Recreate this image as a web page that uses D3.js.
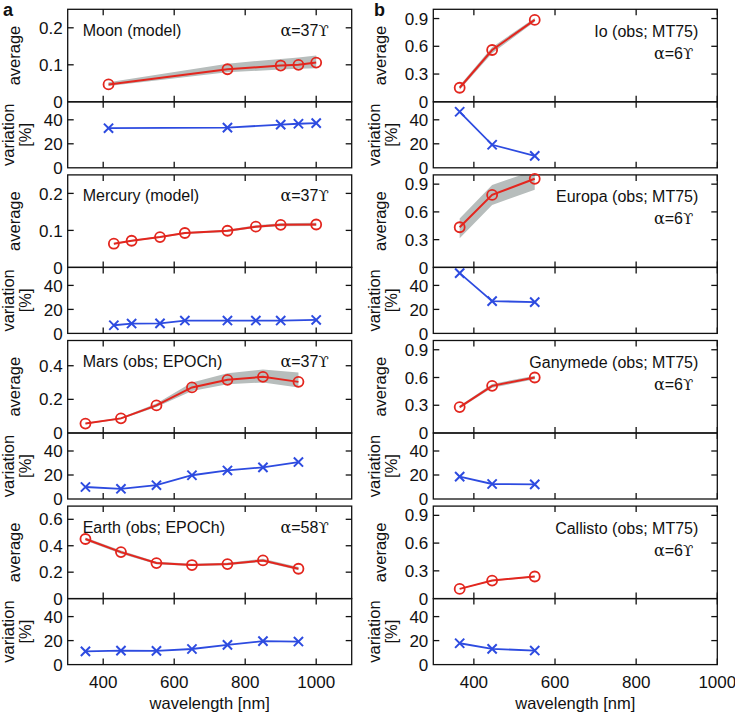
<!DOCTYPE html>
<html><head><meta charset="utf-8">
<script src="https://cdn.jsdelivr.net/npm/d3@7"></script>
<style>
body{margin:0;background:#fff;}
text{font-family:"Liberation Sans",Arial,Helvetica,sans-serif;fill:#111;}
.serif{font-family:"DejaVu Serif","Liberation Serif",serif;}
</style></head><body>
<svg id="chart" width="735" height="714"></svg>
<script>
// ---------- data ----------
const xTicks = [400, 600, 800, 1000];
const varTicks = [0, 20, 40];

const moonWl  = [415, 750, 900, 950, 1000];
const moonAvg = [0.047, 0.088, 0.098, 0.100, 0.106];
const moonLo  = [0.043, 0.080, 0.087, 0.089, 0.091];
const moonHi  = [0.053, 0.103, 0.116, 0.120, 0.125];
const moonVar = [33, 33.5, 36, 36.7, 37.2];

const mercWl  = [430, 480, 560, 630, 750, 830, 900, 1000];
const mercAvg = [0.064, 0.072, 0.082, 0.093, 0.099, 0.110, 0.115, 0.116];
const mercLo  = [0.062, 0.070, 0.080, 0.090, 0.096, 0.107, 0.111, 0.112];
const mercHi  = [0.066, 0.074, 0.084, 0.095, 0.102, 0.114, 0.119, 0.121];
const mercVar = [6.8, 8.2, 8.4, 10.7, 10.7, 10.7, 10.7, 11.2];

const marsWl  = [350, 450, 550, 650, 750, 850, 950];
const marsAvg = [0.056, 0.087, 0.164, 0.271, 0.316, 0.334, 0.304];
const marsLo  = [0.052, 0.082, 0.155, 0.250, 0.290, 0.300, 0.270];
const marsHi  = [0.060, 0.092, 0.175, 0.300, 0.355, 0.378, 0.360];
const marsVar = [10, 8.5, 11.5, 19.8, 23.8, 26.4, 30.8];

const earthWl  = [350, 450, 550, 650, 750, 850, 950];
const earthAvg = [0.451, 0.352, 0.269, 0.254, 0.261, 0.289, 0.226];
const earthLo  = [0.440, 0.340, 0.260, 0.246, 0.252, 0.278, 0.214];
const earthHi  = [0.462, 0.364, 0.279, 0.264, 0.272, 0.302, 0.240];
const earthVar = [11, 11.6, 11.4, 13, 16.4, 19.6, 19.2];

const ioWl  = [365, 445, 550];
const ioAvg = [0.152, 0.560, 0.885];
const ioLo  = [0.130, 0.525, 0.865];
const ioHi  = [0.175, 0.590, 0.905];
const ioVar = [46.7, 19.2, 9.9];

const euWl  = [365, 445, 550];
const euAvg = [0.434, 0.784, 0.958];
const euLo  = [0.314, 0.675, 0.840];
const euHi  = [0.530, 0.890, 1.050];
const euVar = [50.2, 26.9, 26.1];

const ganWl  = [365, 445, 550];
const ganAvg = [0.280, 0.510, 0.600];
const ganLo  = [0.265, 0.490, 0.580];
const ganHi  = [0.295, 0.530, 0.620];
const ganVar = [18.6, 12.5, 12.2];

const calWl  = [365, 445, 550];
const calAvg = [0.105, 0.195, 0.239];
const calLo  = [0.100, 0.188, 0.232];
const calHi  = [0.110, 0.202, 0.246];
const calVar = [17.8, 13.1, 11.7];

const panelNames  = ["Moon (model)", "Mercury (model)", "Mars (obs; EPOCh)", "Earth (obs; EPOCh)",
                     "Io (obs; MT75)", "Europa (obs; MT75)", "Ganymede (obs; MT75)", "Callisto (obs; MT75)"];
const panelAlphas = ["37", "37", "37", "58", "6", "6", "6", "6"];
const avgMax   = [0.25, 0.25, 0.55, 0.7, 1.0, 1.0, 1.0, 1.0];
const avgTicks = [[0,0.1,0.2],[0,0.1,0.2],[0,0.2,0.4],[0,0.2,0.4,0.6],
                  [0,0.3,0.6,0.9],[0,0.3,0.6,0.9],[0,0.3,0.6,0.9],[0,0.3,0.6,0.9]];
const varMax = 55;
const xDomains = [[300, 1100], [300, 1000]];

const panels = [
  {wl: moonWl, avg: moonAvg, lo: moonLo, hi: moonHi, vr: moonVar},
  {wl: mercWl, avg: mercAvg, lo: mercLo, hi: mercHi, vr: mercVar},
  {wl: marsWl, avg: marsAvg, lo: marsLo, hi: marsHi, vr: marsVar},
  {wl: earthWl, avg: earthAvg, lo: earthLo, hi: earthHi, vr: earthVar},
  {wl: ioWl, avg: ioAvg, lo: ioLo, hi: ioHi, vr: ioVar},
  {wl: euWl, avg: euAvg, lo: euLo, hi: euHi, vr: euVar},
  {wl: ganWl, avg: ganAvg, lo: ganLo, hi: ganHi, vr: ganVar},
  {wl: calWl, avg: calAvg, lo: calLo, hi: calHi, vr: calVar}
];

// ---------- layout ----------
const svg = d3.select("#chart");
const RED = "#e3261e", BLUE = "#2d4be0", BAND = "#b7bdbc";
const colLeft = [67.7, 433.3], colW = 284;
const top0 = 9.3, rowStep = 165.6, avgH = 92.5, varH = 66;
const tickLen = 6;
const TICK_FS = 17, LAB_FS = 16, TITLE_FS = 16.5;
const fmt = v => v === 0 ? "0" : d3.format("")(v);

function frameWithTicks(g, x, y, w, h, xs, ys, xTickVals, yTickVals) {
  g.append("rect").attr("x", x).attr("y", y).attr("width", w).attr("height", h)
    .attr("fill", "none").attr("stroke", "#111").attr("stroke-width", 1.3);
  xTickVals.forEach(t => {
    const px = xs(t);
    g.append("line").attr("x1", px).attr("x2", px).attr("y1", y).attr("y2", y + tickLen)
      .attr("stroke", "#111").attr("stroke-width", 1.3);
    g.append("line").attr("x1", px).attr("x2", px).attr("y1", y + h).attr("y2", y + h - tickLen)
      .attr("stroke", "#111").attr("stroke-width", 1.3);
  });
  yTickVals.forEach(t => {
    const py = ys(t);
    if (Math.abs(py - y) < 0.5 || Math.abs(py - (y + h)) < 0.5) return;
    g.append("line").attr("x1", x).attr("x2", x + tickLen).attr("y1", py).attr("y2", py)
      .attr("stroke", "#111").attr("stroke-width", 1.3);
    g.append("line").attr("x1", x + w).attr("x2", x + w - tickLen).attr("y1", py).attr("y2", py)
      .attr("stroke", "#111").attr("stroke-width", 1.3);
  });
  yTickVals.forEach(t => {
    g.append("text").attr("x", x - 5).attr("y", ys(t)).attr("dy", "0.36em")
      .attr("text-anchor", "end").attr("font-size", TICK_FS).text(fmt(t));
  });
}

function alphaText(g, x, y, val) {
  const t = g.append("text").attr("x", x).attr("y", y).attr("font-size", LAB_FS).attr("text-anchor", "end");
  t.append("tspan").attr("class", "serif").text("α");
  t.append("tspan").text("=" + val);
  t.append("tspan").attr("class", "serif").attr("font-size", LAB_FS - 1).text("ϒ");
}

const defs = svg.append("defs");

panels.forEach((p, i) => {
  const col = i < 4 ? 0 : 1, row = i % 4;
  const x0 = colLeft[col];
  const yTop = top0 + row * rowStep;
  const xs = d3.scaleLinear().domain(xDomains[col]).range([x0, x0 + colW]);
  const ya = d3.scaleLinear().domain([0, avgMax[i]]).range([yTop + avgH, yTop]);
  const yv = d3.scaleLinear().domain([0, varMax]).range([yTop + avgH + varH, yTop + avgH]);
  const g = svg.append("g");
  const clipId = "clip" + i;
  defs.append("clipPath").attr("id", clipId).append("rect")
    .attr("x", x0).attr("y", yTop).attr("width", colW).attr("height", avgH);

  const idx = d3.range(p.wl.length);
  g.append("path").attr("clip-path", `url(#${clipId})`)
    .attr("d", d3.area().x(k => xs(p.wl[k])).y0(k => ya(p.lo[k])).y1(k => ya(p.hi[k]))(idx))
    .attr("fill", BAND).attr("stroke", "none");

  frameWithTicks(g, x0, yTop, colW, avgH, xs, ya, xTicks, avgTicks[i]);
  frameWithTicks(g, x0, yTop + avgH, colW, varH, xs, yv, xTicks, varTicks);

  g.append("path").attr("d", d3.line().x(k => xs(p.wl[k])).y(k => ya(p.avg[k]))(idx))
    .attr("fill", "none").attr("stroke", RED).attr("stroke-width", 2);
  g.selectAll(null).data(idx).enter().append("circle")
    .attr("cx", k => xs(p.wl[k])).attr("cy", k => ya(p.avg[k])).attr("r", 5)
    .attr("fill", "none").attr("stroke", RED).attr("stroke-width", 1.8);

  g.append("path").attr("d", d3.line().x(k => xs(p.wl[k])).y(k => yv(p.vr[k]))(idx))
    .attr("fill", "none").attr("stroke", BLUE).attr("stroke-width", 1.8);
  const s = 4.6;
  idx.forEach(k => {
    const cx = xs(p.wl[k]), cy = yv(p.vr[k]);
    g.append("path").attr("d", `M${cx - s},${cy - s}L${cx + s},${cy + s}M${cx - s},${cy + s}L${cx + s},${cy - s}`)
      .attr("stroke", BLUE).attr("stroke-width", 2).attr("fill", "none");
  });

  if (col === 0) {
    g.append("text").attr("x", x0 + 15).attr("y", yTop + 26.5).attr("font-size", LAB_FS).text(panelNames[i]);
    alphaText(g, x0 + colW - 23, yTop + 26.5, panelAlphas[i]);
  } else {
    g.append("text").attr("x", x0 + colW - 19).attr("y", yTop + 27.5).attr("font-size", LAB_FS)
      .attr("text-anchor", "end").text(panelNames[i]);
    alphaText(g, x0 + colW - 24, yTop + 49.5, panelAlphas[i]);
  }

  g.append("text").attr("transform", `translate(${x0 - 53.5},${yTop + avgH / 2}) rotate(-90)`)
    .attr("dy", "0.35em").attr("text-anchor", "middle").attr("font-size", TITLE_FS).text("average");
  g.append("text").attr("transform", `translate(${x0 - 59},${yTop + avgH + varH / 2}) rotate(-90)`)
    .attr("dy", "0.35em").attr("text-anchor", "middle").attr("font-size", TITLE_FS).text("variation");
  g.append("text").attr("transform", `translate(${x0 - 42},${yTop + avgH + varH / 2}) rotate(-90)`)
    .attr("dy", "0.35em").attr("text-anchor", "middle").attr("font-size", TITLE_FS).text("[%]");

  if (row === 3) {
    const yb = yTop + avgH + varH;
    xTicks.forEach(t => {
      g.append("text").attr("x", xs(t)).attr("y", yb + 23).attr("text-anchor", "middle")
        .attr("font-size", TICK_FS).text(t);
    });
    g.append("text").attr("x", x0 + colW / 2).attr("y", yb + 44.5).attr("text-anchor", "middle")
      .attr("font-size", TITLE_FS).text("wavelength [nm]");
  }
});

svg.append("text").attr("x", 3).attr("y", 16).attr("font-size", 18).attr("font-weight", "bold").text("a");
svg.append("text").attr("x", 374).attr("y", 16).attr("font-size", 18).attr("font-weight", "bold").text("b");
</script>
</body></html>
